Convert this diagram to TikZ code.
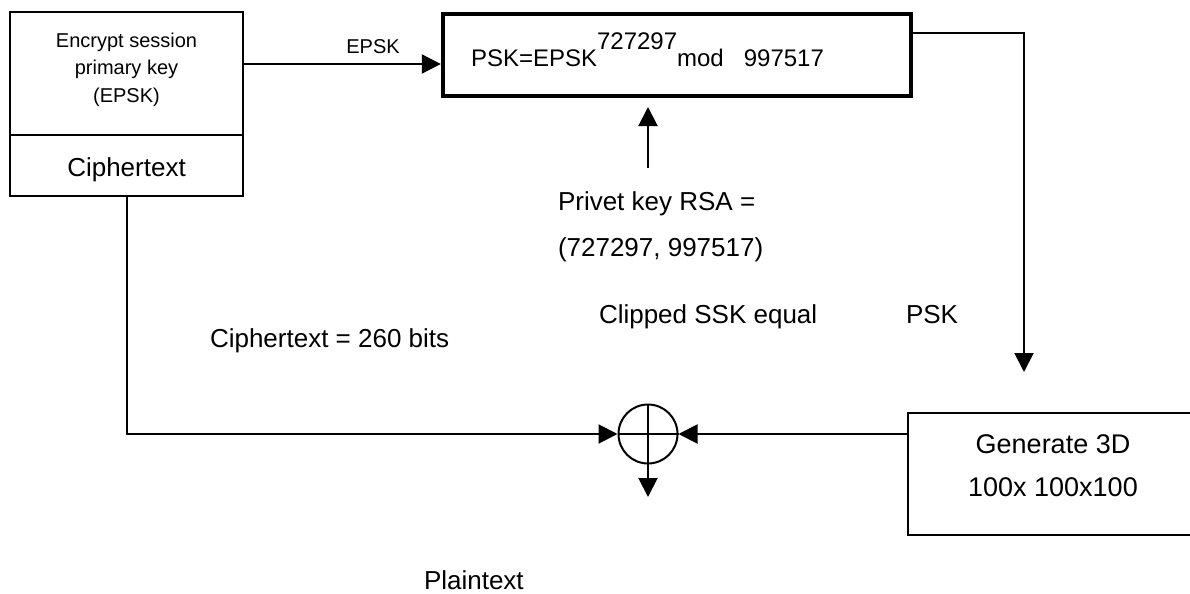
\documentclass[tikz,border=0pt]{standalone}
\usepackage{fontspec}
\setmainfont{Liberation Sans}
\usetikzlibrary{arrows.meta}
\begin{document}
\begin{tikzpicture}[x=0.5pt,y=-0.5pt,
  line width=1pt,
  arr/.style={-{Triangle[length=9.5pt,width=9.5pt]}},
  box/.style={draw, rectangle, inner sep=0pt, align=center},
  lbl/.style={inner sep=0pt, font=\fontsize{13}{15}\selectfont}]
\useasboundingbox (0,0) rectangle (1190,594);
% boxes
\node[box, minimum width=116.5pt, minimum height=61.5pt, font=\fontsize{10}{13.75}\selectfont, text depth=6pt] (enc) at (126.5,73.5) {Encrypt session\\primary key\\(EPSK)};
\node[box, minimum width=116.5pt, minimum height=30.5pt, font=\fontsize{13}{15}\selectfont, text height=14pt] (ciph) at (126.5,165.5) {Ciphertext};
\node[box, line width=2.2pt, minimum width=234pt, minimum height=41pt, align=left, text width=206pt, font=\fontsize{12}{14}\selectfont, text depth=5pt] (psk) at (677,55) {PSK=EPSK\raisebox{8.5pt}{727297}mod\hspace{10pt}997517};
\node[box, minimum width=145pt, minimum height=61pt, font=\fontsize{13.5}{21.5}\selectfont, text depth=8pt] (gen) at (1053,474) {Generate 3D\\100x 100x100};
\node[draw, circle, minimum size=29.5pt, inner sep=0pt] (xor) at (648,434) {};
\draw (xor.north) -- (xor.south);
\draw (xor.west) -- (xor.east);
% labels
\node[lbl, font=\fontsize{10}{12}\selectfont] (epsk) at (373,47) {EPSK};
\node[lbl, font=\fontsize{13}{23}\selectfont, align=left, anchor=north west] (rsa) at (557,191) {Privet key RSA =\\(727297, 997517)};
\node[lbl, anchor=base west] (clip) at (598,323) {Clipped SSK equal};
\node[lbl, anchor=base west] (psklbl) at (905,323) {PSK};
\node[lbl, anchor=base west] (c260) at (209,347) {Ciphertext = 260 bits};
\node[lbl, anchor=base west] (plain) at (423,589) {Plaintext};
% connectors
\coordinate (a1) at ([yshift=4.75pt]enc.east);
\draw[arr] (a1) -- (a1 -| psk.west);
\coordinate (b1) at ([yshift=11pt]psk.east);
\coordinate (pskend) at (1024,372);
\draw[arr] (b1) -| (pskend);
\coordinate (up) at (648,107);
\coordinate (dn) at (648,168);
\draw[arr] (dn) -- (up);
\draw[arr] (ciph.south) |- (xor.west);
\draw[arr] (gen.west |- xor.east) -- (xor.east);
\coordinate (out) at (648,497);
\draw[arr] (xor.south) -- (out);
\end{tikzpicture}
\end{document}
